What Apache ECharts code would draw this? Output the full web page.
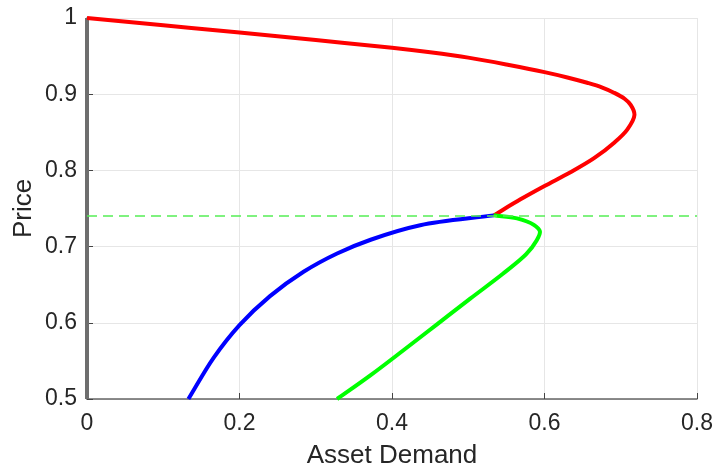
<!DOCTYPE html>
<html>
<head>
<meta charset="utf-8">
<script src="https://cdn.jsdelivr.net/npm/echarts@6/dist/echarts.min.js"></script>
<style>
html,body{margin:0;padding:0;background:#fff;}
#chart{width:715px;height:466px;}
</style>
</head>
<body>
<div id="chart"></div>
<script>
// Tick labels
const xTicks = ['0', '0.2', '0.4', '0.6', '0.8'];
const yTicks = ['0.5', '0.6', '0.7', '0.8', '0.9', '1'];

// Demand curves as [demand, price] pairs, traced in order along each branch
const redCurve = [
  [0, 1.0], [0.1, 0.9905], [0.2, 0.981], [0.3, 0.971], [0.4, 0.961],
  [0.45, 0.955], [0.5, 0.948], [0.55, 0.939], [0.6, 0.929], [0.63, 0.922],
  [0.656, 0.915], [0.675, 0.909], [0.691, 0.902], [0.705, 0.894], [0.713, 0.886],
  [0.718, 0.873], [0.7085, 0.8535], [0.691, 0.836], [0.665, 0.816], [0.634, 0.7975],
  [0.600, 0.7795], [0.5685, 0.762], [0.5335, 0.741]
];
const blueCurve = [
  [0.133, 0.5], [0.166, 0.554], [0.200, 0.597], [0.240, 0.635], [0.284, 0.667],
  [0.328, 0.691], [0.372, 0.709], [0.437, 0.728], [0.5335, 0.741]
];
const greenCurve = [
  [0.5335, 0.741], [0.564, 0.737], [0.586, 0.7285], [0.594, 0.720], [0.589, 0.707],
  [0.576, 0.690], [0.545, 0.664], [0.503, 0.632], [0.459, 0.598], [0.415, 0.564],
  [0.3716, 0.531], [0.328, 0.5]
];
const thresholdPrice = 0.74;
const zeroDemand = [[0, 0.5], [0, 1.0]];
const thresholdLine = [[0, thresholdPrice], [0.8, thresholdPrice]];

const font = 'Liberation Sans, Arial, Helvetica, sans-serif';
const textColor = '#262626';

function tickLabel(list, min, step) {
  return function (v) {
    const i = Math.round((v - min) / step);
    return list[i] !== undefined ? list[i] : '';
  };
}

// Centripetal Catmull-Rom spline through pixel points, as SVG path data
function splinePath(pts) {
  const n = pts.length;
  const P = (i) => pts[Math.max(0, Math.min(n - 1, i))];
  const dist = (a, b) => Math.pow(Math.hypot(b[0] - a[0], b[1] - a[1]), 0.5);
  let d = 'M' + pts[0][0] + ' ' + pts[0][1];
  for (let i = 0; i < n - 1; i++) {
    const p0 = P(i - 1), p1 = P(i), p2 = P(i + 1), p3 = P(i + 2);
    const d1 = dist(p0, p1), d2 = dist(p1, p2), d3 = dist(p2, p3);
    let b1, b2;
    if (d1 > 1e-9) {
      b1 = [0, 1].map(k => (d1 * d1 * p2[k] - d2 * d2 * p0[k] + (2 * d1 * d1 + 3 * d1 * d2 + d2 * d2) * p1[k]) / (3 * d1 * (d1 + d2)));
    } else {
      b1 = [0, 1].map(k => p1[k] + (p2[k] - p1[k]) / 3);
    }
    if (d3 > 1e-9) {
      b2 = [0, 1].map(k => (d3 * d3 * p1[k] - d2 * d2 * p3[k] + (2 * d3 * d3 + 3 * d3 * d2 + d2 * d2) * p2[k]) / (3 * d3 * (d3 + d2)));
    } else {
      b2 = [0, 1].map(k => p2[k] - (p2[k] - p1[k]) / 3);
    }
    d += ' C' + b1[0] + ' ' + b1[1] + ' ' + b2[0] + ' ' + b2[1] + ' ' + p2[0] + ' ' + p2[1];
  }
  return d;
}

function curveSeries(points, color) {
  return {
    type: 'custom',
    z: 4,
    data: [0],
    silent: true,
    renderItem: function (params, api) {
      const px = points.map(p => api.coord(p));
      return {
        type: 'path',
        shape: { pathData: splinePath(px) },
        style: { stroke: color, lineWidth: 4, fill: null, lineJoin: 'round', lineCap: 'butt' }
      };
    }
  };
}

const chart = echarts.init(document.getElementById('chart'), null, { renderer: 'canvas' });
chart.setOption({
  animation: false,
  backgroundColor: '#ffffff',
  grid: { left: 87, right: 18, top: 18, bottom: 67, containLabel: false, outerBoundsMode: 'none' },
  xAxis: {
    type: 'value', min: 0, max: 0.8, interval: 0.2,
    name: 'Asset Demand', nameLocation: 'middle', nameGap: 44, nameMoveOverlap: false,
    nameTextStyle: { fontFamily: font, fontSize: 26, color: textColor },
    axisLine: { show: true, lineStyle: { color: '#666666', width: 1.5 } },
    axisTick: { show: true, inside: true, length: 6, lineStyle: { color: '#444444', width: 1 } },
    axisLabel: { formatter: tickLabel(xTicks, 0, 0.2), fontFamily: font, fontSize: 23, color: textColor, margin: 13 },
    splitLine: { show: true, lineStyle: { color: '#e6e6e6', width: 1 } }
  },
  yAxis: {
    type: 'value', min: 0.5, max: 1.0, interval: 0.1,
    name: 'Price', nameLocation: 'middle', nameGap: 50, nameRotate: 90, nameMoveOverlap: false,
    nameTextStyle: { fontFamily: font, fontSize: 26, color: textColor },
    axisLine: { show: true, lineStyle: { color: '#666666', width: 1.5 } },
    axisTick: { show: true, inside: true, length: 6, lineStyle: { color: '#444444', width: 1 } },
    axisLabel: { formatter: tickLabel(yTicks, 0.5, 0.1), fontFamily: font, fontSize: 23, color: textColor, margin: 10 },
    splitLine: { show: true, lineStyle: { color: '#e6e6e6', width: 1 } }
  },
  series: [
    {
      type: 'line', data: zeroDemand, showSymbol: false, clip: false, z: 3,
      lineStyle: { color: '#6e6e6e', width: 4 }
    },
    curveSeries(redCurve, '#ff0000'),
    curveSeries(blueCurve, '#0000ff'),
    curveSeries(greenCurve, '#00ff00'),
    {
      type: 'line', data: thresholdLine, showSymbol: false, z: 5,
      lineStyle: { color: '#55ee55', width: 1.5, type: [10, 6] }
    }
  ]
});
</script>
</body>
</html>
